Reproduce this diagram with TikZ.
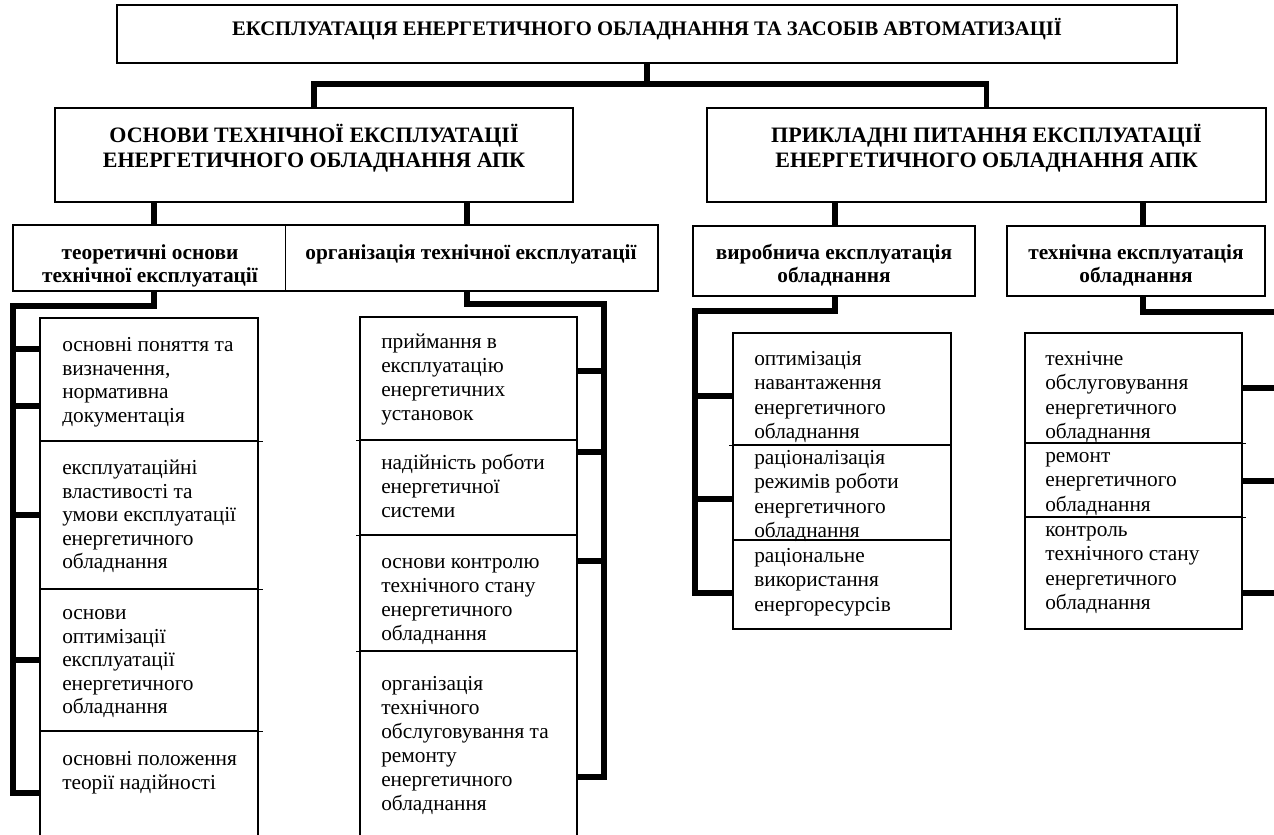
\documentclass[tikz,border=0pt]{standalone}
\usepackage{fontspec}
\setmainfont{Liberation Serif}
\usetikzlibrary{fit}
\newcommand{\fr}{\rule{0pt}{16pt}}
\begin{document}
\begin{tikzpicture}[x=0.75pt,y=-0.75pt,
  boxst/.style={draw, line width=1pt, inner sep=0pt},
  divx/.style={line width=1pt},
  conn/.style={line width=3.8pt, line join=miter},
  itemA/.style={anchor=north west, inner sep=0pt, align=left, font=\fontsize{16}{17.6}\selectfont},
  itemB/.style={anchor=north west, inner sep=0pt, align=left, font=\fontsize{16}{18}\selectfont},
  itemC/.style={anchor=north west, inner sep=0pt, align=left, font=\fontsize{16}{18.4}\selectfont},
  headtxt/.style={anchor=north, inner sep=0pt, align=center, font=\bfseries\fontsize{16}{17.4}\selectfont},
  toptxt/.style={anchor=north, inner sep=0pt, align=center, font=\bfseries\fontsize{16.5}{18.75}\selectfont},
  titletxt/.style={anchor=north, inner sep=0pt, font=\bfseries\fontsize{15.5}{18}\selectfont}]
\useasboundingbox (0,0) rectangle (1274,835);
\fill[white] (0,0) rectangle (1274,835);
\clip (0,0) rectangle (1274,835);

% title
\node[boxst, fit={(117,5) (1177,63)}] (T) {};
\node[titletxt] (Tt) at (647,13.5) {\fr ЕКСПЛУАТАЦІЯ ЕНЕРГЕТИЧНОГО ОБЛАДНАННЯ ТА ЗАСОБІВ АВТОМАТИЗАЦІЇ};

% level 1
\node[boxst, fit={(55,108) (573,202)}] (L1a) {};
\node[toptxt] (L1at) at (314,121) {\fr ОСНОВИ ТЕХНІЧНОЇ ЕКСПЛУАТАЦІЇ\\ЕНЕРГЕТИЧНОГО ОБЛАДНАННЯ АПК};
\node[boxst, fit={(707,108) (1266,202)}] (L1b) {};
\node[toptxt] (L1bt) at (986.5,121) {\fr ПРИКЛАДНІ ПИТАННЯ ЕКСПЛУАТАЦІЇ\\ЕНЕРГЕТИЧНОГО ОБЛАДНАННЯ АПК};

% level 2
\node[boxst, fit={(13,225) (285.5,291)}] (L2a) {};
\node[headtxt] (L2at) at (150,237.7) {\fr теоретичні основи\\технічної експлуатації};
\node[boxst, fit={(285.5,225) (658,291)}] (L2b) {};
\node[headtxt] (L2bt) at (471,237.7) {\fr організація технічної експлуатації};
\node[boxst, fit={(693,226) (975,296)}] (L2c) {};
\node[headtxt] (L2ct) at (834,237.7) {\fr виробнича експлуатація\\обладнання};
\node[boxst, fit={(1007,226) (1265,296)}] (L2d) {};
\node[headtxt] (L2dt) at (1136,237.7) {\fr технічна експлуатація\\обладнання};

% column A
\node[boxst, fit={(40,318) (258,441)}] (A1) {};
\node[boxst, fit={(40,441) (258,589)}] (A2) {};
\node[boxst, fit={(40,589) (258,731)}] (A3) {};
\node[boxst, fit={(40,731) (258,845)}] (A4) {};
\node[itemA] (A1t) at (62,330.2) {\fr основні поняття та\\визначення,\\нормативна\\документація};
\node[itemA] (A2t) at (62,453.2) {\fr експлуатаційні\\властивості та\\умови експлуатації\\енергетичного\\обладнання};
\node[itemA] (A3t) at (62,598.2) {\fr основи\\оптимізації\\експлуатації\\енергетичного\\обладнання};
\node[itemA] (A4t) at (62,744.2) {\fr основні положення\\теорії надійності};
\foreach \nn in {A1,A2,A3} \draw[divx] (\nn.south east) -- ++(4,0);

% column B
\node[boxst, fit={(360,317) (577,440)}] (B1) {};
\node[boxst, fit={(360,440) (577,535)}] (B2) {};
\node[boxst, fit={(360,535) (577,651)}] (B3) {};
\node[boxst, fit={(360,651) (577,845)}] (B4) {};
\node[itemB] (B1t) at (381,327.2) {\fr приймання в\\експлуатацію\\енергетичних\\установок};
\node[itemB] (B2t) at (381,448.2) {\fr надійність роботи\\енергетичної\\системи};
\node[itemB] (B3t) at (381,547.2) {\fr основи контролю\\технічного стану\\енергетичного\\обладнання};
\node[itemB] (B4t) at (381,669.2) {\fr організація\\технічного\\обслуговування та\\ремонту\\енергетичного\\обладнання};
\foreach \nn in {B1,B2,B3} \draw[divx] (\nn.south west) -- ++(-3,0);

% column C
\node[boxst, fit={(733,333) (951,445)}] (C1) {};
\node[boxst, fit={(733,445) (951,540)}] (C2) {};
\node[boxst, fit={(733,540) (951,629)}] (C3) {};
\node[itemC] (C1t) at (754,343.7) {\fr оптимізація\\навантаження\\енергетичного\\обладнання};
\node[itemC] (C2t) at (754,442.7) {\fr раціоналізація\\режимів роботи\\енергетичного\\обладнання};
\node[itemC] (C3t) at (754,540.7) {\fr раціональне\\використання\\енергоресурсів};
\draw[divx] (C1.south west) -- ++(-3,0);

% column D
\node[boxst, fit={(1025,333) (1242,443)}] (D1) {};
\node[boxst, fit={(1025,443) (1242,517)}] (D2) {};
\node[boxst, fit={(1025,517) (1242,629)}] (D3) {};
\node[itemC] (D1t) at (1045,343.7) {\fr технічне\\обслуговування\\енергетичного\\обладнання};
\node[itemC] (D2t) at (1045,440.7) {\fr ремонт\\енергетичного\\обладнання};
\node[itemC] (D3t) at (1045,514.7) {\fr контроль\\технічного стану\\енергетичного\\обладнання};
\foreach \nn in {D1,D2} \draw[divx] (\nn.south east) -- ++(3,0);

% bus coordinates
\coordinate (hub) at (647,84);
\coordinate (da) at (154,0);
\coordinate (db) at (467,0);
\coordinate (dc) at (835,0);
\coordinate (dd) at (1143,0);
\coordinate (busA) at (13,306);
\coordinate (busB) at (604,304);
\coordinate (busC) at (695,311);
\coordinate (busD) at (1292,312);

% connectors top
\draw[conn] (T.south) -- (T.south |- hub);
\draw[conn] (L1a.north) -- (L1a.north |- hub) -- (L1b.north |- hub) -- (L1b.north);
\draw[conn] (da |- L1a.south) -- (da |- L2a.north);
\draw[conn] (db |- L1a.south) -- (db |- L2b.north);
\draw[conn] (dc |- L1b.south) -- (dc |- L2c.north);
\draw[conn] (dd |- L1b.south) -- (dd |- L2d.north);

% column A bus
\draw[conn] (da |- L2a.south) |- (busA) -- (busA |- 0,793) -- (A4.west |- 0,793);
\foreach \yy in {349,406,515,660} \draw[conn] (busA |- 0,\yy) -- (A1.west |- 0,\yy);
% column B bus
\draw[conn] (db |- L2b.south) |- (busB) -- (busB |- 0,777) -- (B4.east |- 0,777);
\foreach \yy in {371,452,561} \draw[conn] (busB |- 0,\yy) -- (B1.east |- 0,\yy);
% column C bus
\draw[conn] (dc |- L2c.south) |- (busC) -- (busC |- 0,593) -- (C3.west |- 0,593);
\foreach \yy in {396,499} \draw[conn] (busC |- 0,\yy) -- (C1.west |- 0,\yy);
% column D bus
\draw[conn] (dd |- L2d.south) |- (busD) -- (busD |- 0,593) -- (D3.east |- 0,593);
\foreach \yy in {388,481} \draw[conn] (busD |- 0,\yy) -- (D1.east |- 0,\yy);
\end{tikzpicture}
\end{document}
